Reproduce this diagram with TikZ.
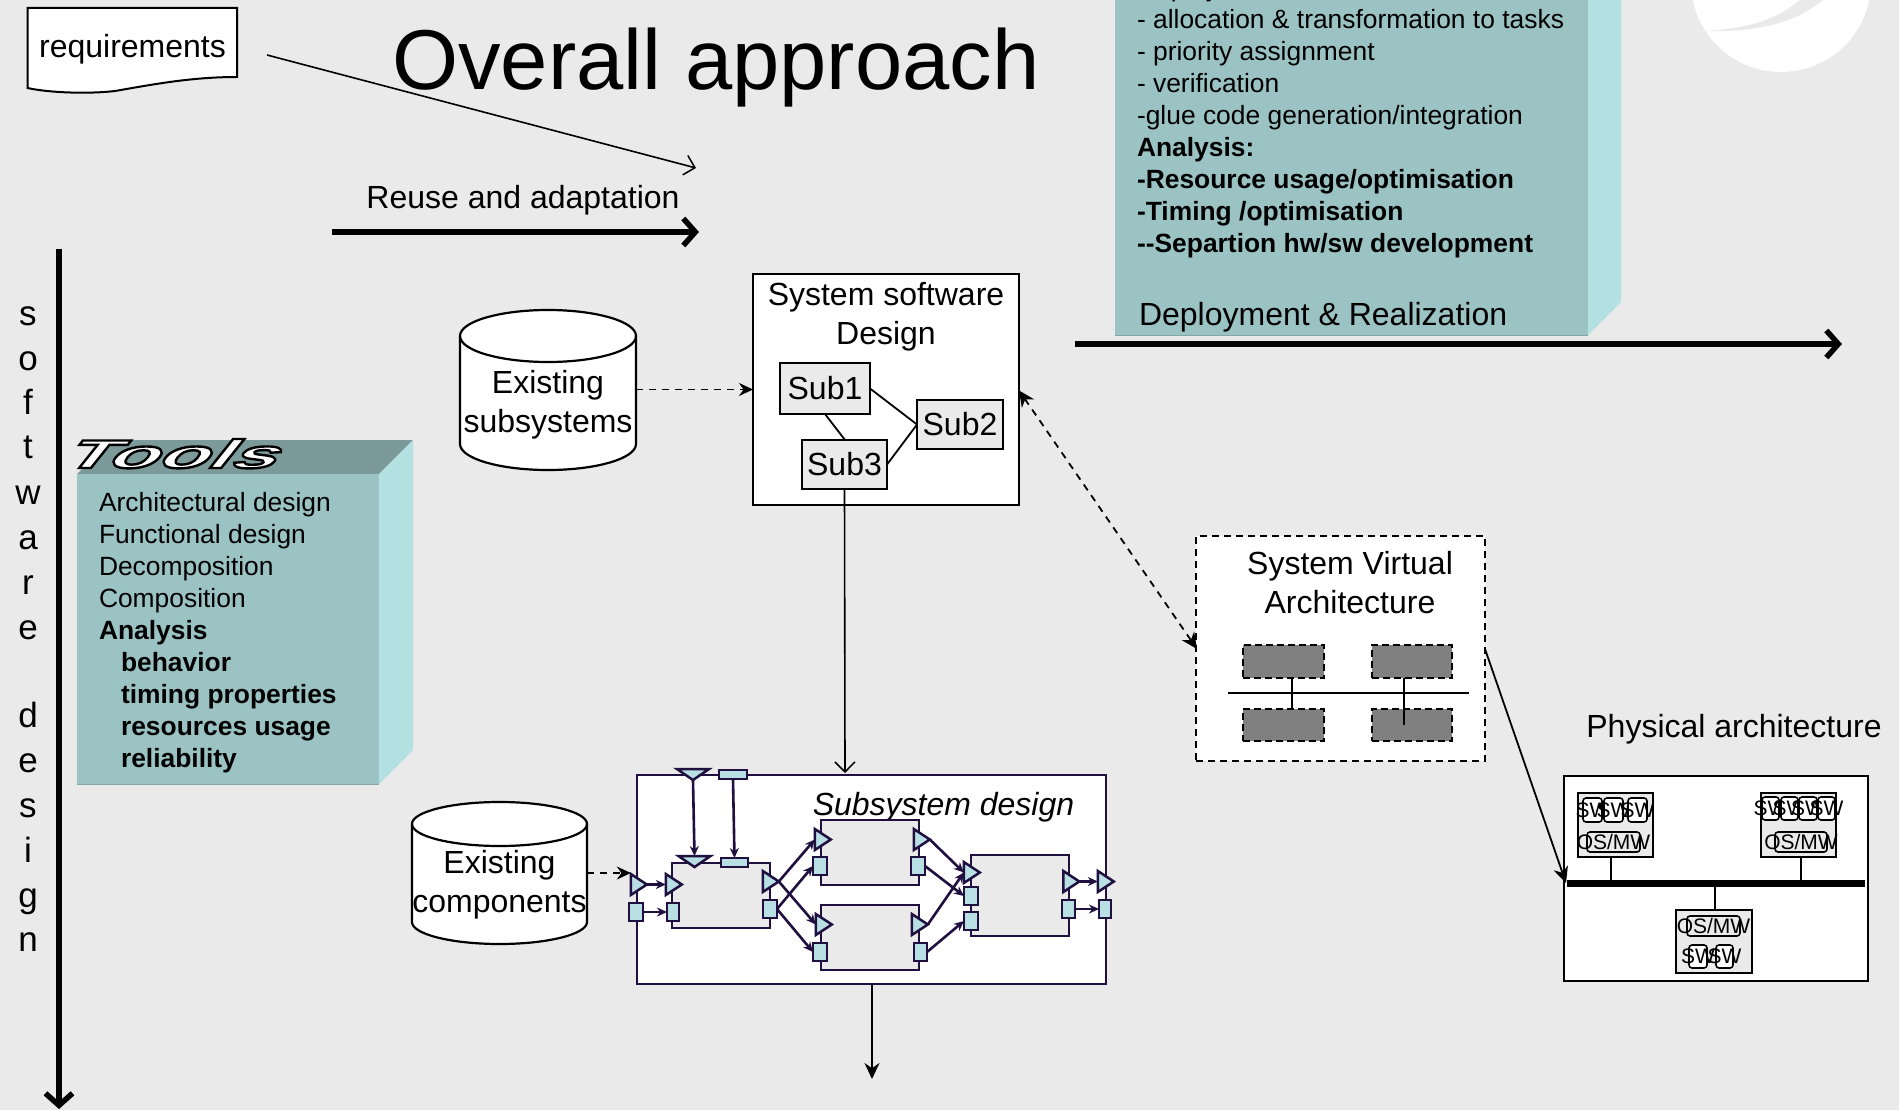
\documentclass[tikz,border=0pt]{standalone}
\usepackage{fontspec}
\setmainfont{Liberation Sans}
\newfontfamily\toolsfont[FakeStretch=2.05,FakeSlant=0.8,FakeBold=6]{Liberation Sans Bold}
\usetikzlibrary{shapes.geometric,arrows.meta,calc}
\definecolor{bgc}{HTML}{EAEAEA}
\definecolor{front}{HTML}{9CC3C4}
\definecolor{sidec}{HTML}{B3E0E0}
\definecolor{topc}{HTML}{7C9A9A}
\definecolor{navy}{HTML}{1F1040}
\definecolor{portc}{HTML}{B8E0E4}
\definecolor{darkbox}{HTML}{808080}
\newcommand{\fs}[1]{\fontsize{#1}{#1}\selectfont}
\tikzset{
  every node/.style={inner sep=0pt,outer sep=0pt},
  lab/.style={font=\fontsize{32}{39}\selectfont,align=center},
  body/.style={font=\fontsize{26.4}{32}\selectfont,align=left,anchor=north west},
  plainbox/.style={draw=black,line width=2.2pt,fill=white},
  subbox/.style={draw=black,line width=2.2pt,fill=bgc},
  dashbox/.style={draw=black,line width=2.2pt,fill=white,dash pattern=on 7pt off 5pt},
  greybox/.style={draw=black,line width=2.4pt,fill=darkbox,dash pattern=on 7pt off 4pt},
  navybox/.style={draw=navy,line width=2.5pt,fill=white},
  innerbox/.style={draw=navy,line width=2.5pt,fill=bgc},
  rport/.style={draw=navy,line width=2.5pt,fill=portc},
  tport/.style={draw=navy,line width=2.5pt,fill=portc,isosceles triangle,isosceles triangle stretches,minimum height=16pt,minimum width=21pt},
  chip/.style={draw=black,line width=1.6pt,rounded corners=3pt,fill=white,font=\fontsize{21}{21}\selectfont},
  oschip/.style={draw=black,line width=1.6pt,rounded corners=3pt,fill=bgc,font=\fontsize{21}{21}\selectfont},
  thin conn/.style={draw=black,line width=1.8pt},
  open tip/.style={-{Straight Barb[length=10pt,width=20pt,line width=1.5pt]},line width=1.6pt},
  heavy/.style={-{Straight Barb[length=12pt,width=27pt,line width=5.5pt]},line width=5.5pt},
  solid tip/.style={-{Stealth[length=16pt,width=15pt]},line width=1.8pt},
  dash conn/.style={line width=1.8pt,dash pattern=on 7pt off 6pt},
  navyarrow/.style={draw=navy,line width=2.6pt,-{Stealth[length=10pt,width=9pt]}},
  cylbody/.style={draw=black,line width=2.2pt,fill=white},
}
% \bx{name}{x1}{y1}{x2}{y2}{style}{text}
\newcommand{\bx}[7]{%
  \pgfmathsetmacro{\bxw}{#4-#2}\pgfmathsetmacro{\bxh}{#5-#3}%
  \node[#6,minimum width=\bxw pt,minimum height=\bxh pt] (#1) at ({(#2+#4)/2},{(#3+#5)/2}) {#7};}
\newcommand{\rp}[5]{\bx{#1}{#2}{#3}{#4}{#5}{rport}{}}
\newcommand{\tp}[3]{\node[tport] (#1) at ({#2-1.5},#3) {};}
\newcommand{\td}[3]{\node[tport,shape border rotate=-90,minimum height=11pt,minimum width=32pt] (#1) at (#2,{#3-1.5}) {};}
% \chp{name}{x1}{y1}{x2}{y2}{text}: the text may overflow its chip
\newcommand{\chp}[6]{\bx{#1}{#2}{#3}{#4}{#5}{chip}{\makebox[0pt]{#6}}}
\newcommand{\osc}[5]{\bx{#1}{#2}{#3}{#4}{#5}{oschip}{\makebox[0pt]{OS/MW}}}
% \cyln{name}{x1}{y1}{x2}{y2}{ry}
\newcommand{\cyln}[6]{%
  \pgfmathsetmacro{\crx}{(#4-#2)/2}%
  \path[cylbody] (#2,#3+#6) -- (#2,#5-#6) arc[start angle=180,end angle=360,x radius=\crx pt,y radius=#6pt] -- (#4,#3+#6) arc[start angle=0,end angle=180,x radius=\crx pt,y radius=#6pt] -- cycle;
  \draw[cylbody,fill=none] (#2,#3+#6) arc[start angle=180,end angle=360,x radius=\crx pt,y radius=#6pt];
  \pgfmathsetmacro{\bxw}{#4-#2}\pgfmathsetmacro{\bxh}{#5-#3}%
  \node[minimum width=\bxw pt,minimum height=\bxh pt] (#1) at ({(#2+#4)/2},{(#3+#5)/2}) {};}
\begin{document}
\begin{tikzpicture}[x=1pt,y=-1pt]
\path[use as bounding box,fill=bgc] (0,-1) rectangle (1899,1109);
% logo
\fill[white] (1781,-19) circle (90);
\fill[bgc] (1703,30) .. controls (1765,32) and (1800,18) .. (1823,-1) -- (1800,-1) .. controls (1775,20) and (1745,28) .. (1703,30) -- cycle;
% title
\node[anchor=base,font=\fs{85}] (title) at (716,88.5) {Overall approach};
% requirements
\path[draw=black,line width=2pt,fill=white] (27.5,7) -- (237,7) -- (237,76) .. controls (190,76) and (150,84) .. (115,90) .. controls (90,93) and (50,92) .. (27.5,87) -- cycle;
\node[font=\fs{32}] (req) at (132.5,48) {requirements};
\coordinate (reqout) at (267,54);
\coordinate (reqin) at (696,167);
\draw[open tip] (reqout) -- (reqin);
% reuse
\node[anchor=base,font=\fs{32}] (reuse) at (523,208) {Reuse and adaptation};
\coordinate (reuseA) at (332,231);
\coordinate (reuseB) at (699,231);
\draw[heavy] (reuseA) -- (reuseB);
% deployment box
\fill[sidec] (1588,334) -- (1621,301) -- (1621,-2) -- (1588,-2) -- cycle;
\fill[front] (1115,-2) rectangle (1588,334);
\draw[line width=1pt,draw=front!85!black] (1115,334) -- (1588,334);
\node[body] (deptext) at (1137,-23.3) {Deployment\\- allocation \& transformation to tasks\\- priority assignment\\- verification\\-glue code generation/integration\\\textbf{Analysis:}\\\textbf{-Resource usage/optimisation}\\\textbf{-Timing /optimisation}\\\textbf{-{}-Separtion hw/sw development}};
\node[anchor=base west,font=\fs{32}] (deplabel) at (1139,324) {Deployment \& Realization};
\coordinate (depA) at (1075,343);
\coordinate (depB) at (1842,343);
\draw[heavy] (depA) -- (depB);
% software design axis
\coordinate (swA) at (59,248);
\coordinate (swB) at (59,1108);
\draw[heavy] (swA) -- (swB);
\foreach \n/\t/\y in {a/s/324,b/o/369,c/f/413,d/t/457,e/w/503,f/a/548,g/r/593,h/e/638,i/d/726,j/e/771,k/s/816,l/i/861,m/g/906,n/n/950}{
  \node[anchor=base,font=\fs{35}] (sw\n) at (28,\y) {\t};
}
% tools box
\fill[topc] (77,473) -- (111,439) -- (413,439) -- (379,473) -- cycle;
\fill[sidec] (379,473) -- (413,439) -- (413,749) -- (379,783) -- cycle;
\fill[front] (77,473) rectangle (379,783);
\draw[line width=1pt,draw=front!85!black] (77,783) -- (379,783);
\node[anchor=base west,font={\toolsfont\fs{40}}] (tools) at (60,467) {\special{pdf:bcolor [1 1 1] [0 0 0]}Tools\special{pdf:ecolor}};
\node[body] (toolstext) at (99,491.5) {Architectural design\\Functional design\\Decomposition\\Composition\\\textbf{Analysis}\\\hspace*{22pt}\textbf{behavior}\\\hspace*{22pt}\textbf{timing properties}\\\hspace*{22pt}\textbf{resources usage}\\\hspace*{22pt}\textbf{reliability}};
% existing subsystems
\cyln{exsub}{460}{309}{636}{469}{26}
\node[lab,anchor=north] (exsubtxt) at (548,369) {Existing\\subsystems};
% system software design
\bx{sys}{753}{273}{1019}{504}{plainbox}{}
\node[lab,anchor=north] (systxt) at (886,281) {System software\\Design};
\bx{subA}{780}{362}{870}{413}{subbox}{\raisebox{-1pt}{\fs{32}Sub1}}
\bx{subB}{917}{399}{1003}{448}{subbox}{\raisebox{-1pt}{\fs{32}Sub2}}
\bx{subC}{802}{439}{887}{488}{subbox}{\raisebox{-1pt}{\fs{32}Sub3}}
\draw[thin conn] (subA.east) -- (subB.west);
\coordinate (subAs) at (825,0);
\coordinate (subCn) at (845,0);
\draw[thin conn] (subAs |- subA.south) -- (subCn |- subC.north);
\draw[thin conn] (subC.east) -- (subB.west);
\draw[dash conn,-{Stealth[length=14pt,width=13pt]}] (exsub.east |- sys.west) -- (sys.west);
% virtual architecture
\bx{virt}{1196}{535}{1485}{760}{dashbox}{}
\node[lab,anchor=north] (virttxt) at (1350,550) {System Virtual\\Architecture};
\bx{va}{1243}{644}{1324}{677}{greybox}{}
\bx{vb}{1372}{644}{1452}{677}{greybox}{}
\bx{vc}{1243}{708}{1324}{740}{greybox}{}
\bx{vd}{1372}{708}{1452}{740}{greybox}{}
\coordinate (busL) at (1228,692);
\coordinate (busR) at (1469,692);
\draw[thin conn] (busL) -- (busR);
\coordinate (vlA) at (1292,0);
\coordinate (vlB) at (1404,724);
\draw[thin conn,line width=2.4pt] (vlA |- va.south) -- (vlA |- vc.north);
\draw[thin conn,line width=2.4pt] (vlB |- vb.south) -- (vlB);
\draw[dash conn,{Stealth[length=16pt,width=15pt]}-{Stealth[length=16pt,width=15pt]}] (sys.east) ++(0,1) -- (1197,648);
% physical architecture
\node[anchor=base,font=\fs{32}] (phystxt) at (1734,736) {Physical architecture};
\bx{phys}{1564}{775}{1868}{980}{plainbox}{}
\bx{bus}{1567}{879}{1865}{886}{draw=none,fill=black}{}
\bx{pa}{1578}{792}{1653}{856}{subbox}{}
\bx{pb}{1761}{792}{1836}{856}{subbox}{}
\bx{pc}{1676}{909}{1752}{972}{subbox}{}
\chp{pas1}{1583}{797}{1602}{821}{SW}
\chp{pas2}{1604}{797}{1623}{821}{SW}
\chp{pas3}{1628}{797}{1647}{821}{SW}
\osc{pao}{1587}{831}{1640}{851}
\chp{pbs1}{1762}{796}{1779}{819}{SW}
\chp{pbs2}{1781}{796}{1798}{819}{SW}
\chp{pbs3}{1799}{796}{1817}{819}{SW}
\chp{pbs4}{1818}{796}{1835}{819}{SW}
\osc{pbo}{1775}{831}{1827}{851}
\osc{pco}{1687}{915}{1740}{935}
\chp{pcs1}{1689}{944}{1707}{967}{SW}
\chp{pcs2}{1716}{944}{1733}{967}{SW}
\coordinate (plA) at (1611,0);
\coordinate (plB) at (1801,0);
\coordinate (plC) at (1715,0);
\draw[thin conn] (plA |- pa.south) -- (plA |- bus.north);
\draw[thin conn] (plB |- pb.south) -- (plB |- bus.north);
\draw[thin conn] (plC |- pc.north) -- (plC |- bus.south);
\coordinate (virtout) at (1485,648);
\coordinate (physin) at (1566,882);
\draw[solid tip] (virtout) -- (physin);
% subsystem design
\bx{subd}{637}{774}{1106}{983}{navybox}{}
\node[anchor=base,font={\itshape\fs{32}}] (subdtxt) at (943.5,814.5) {Subsystem design};
\coordinate (subdin) at (845,772);
\draw[open tip] (subC.south) -- (subdin);
\coordinate (subdout) at (872,1078);
\draw[solid tip] (subdout |- subd.south) -- (subdout);
\bx{bA}{672}{862}{770}{927}{innerbox}{}
\bx{bB}{821}{819}{919}{884}{innerbox}{}
\bx{bC}{821}{904}{919}{969}{innerbox}{}
\bx{bD}{971}{854}{1069}{935}{innerbox}{}
% ports
\tp{tO}{638}{883.5}\rp{rO}{629}{902}{643}{920}
\tp{tAi}{673}{883.5}\rp{rAi}{667}{902}{679}{920}
\td{tAt}{694.5}{861.5}\rp{rAt}{721}{857}{748}{866}
\td{tTop}{693}{774.5}\rp{rTop}{719}{769}{747}{778}
\tp{tAo}{770}{880.5}\rp{rAo}{763}{899}{777}{917}
\tp{tBi}{822}{838.5}\rp{rBi}{813}{856}{827}{874}
\tp{tBo}{921}{838.5}\rp{rBo}{911}{856}{925}{874}
\tp{tCi}{823}{923.5}\rp{rCi}{813}{942}{827}{960}
\tp{tCo}{919}{923.5}\rp{rCo}{914}{942}{927}{960}
\tp{tDi}{971}{871.5}\rp{rDa}{964}{886}{978}{904}\rp{rDb}{964}{911}{978}{929}
\tp{tDo}{1070.5}{880.5}\rp{rDo}{1062}{899}{1075}{917}
\tp{tE}{1105}{880.5}\rp{rE}{1099}{899}{1111}{917}
% port connectors
\draw[navyarrow] (tO.apex) -- (tAi.lower side);
\draw[navyarrow] (rO.east) -- (rAi.west);
\draw[navyarrow] (tTop.apex) -- (tAt.lower side);
\draw[navyarrow] (rTop.south) -- (rAt.north);
\draw[navyarrow] (tAo.apex) -- (tBi.lower side);
\draw[navyarrow] (rAo.east) -- (rBi.west);
\draw[navyarrow] (tAo.apex) -- (tCi.lower side);
\draw[navyarrow] (rAo.east) -- (rCi.west);
\draw[navyarrow] (tBo.apex) -- (tDi.lower side);
\draw[navyarrow] (rBo.east) -- (rDa.west);
\draw[navyarrow] (tCo.apex) -- (tDi.lower side);
\draw[navyarrow] (rCo.east) -- (rDb.west);
\draw[navyarrow] (tDo.apex) -- (tE.lower side);
\draw[navyarrow] (rDo.east) -- (rE.west);
% existing components
\cyln{excomp}{412}{801}{587}{943}{22}
\node[lab,anchor=north] (excomptxt) at (499.5,849) {Existing\\components};
\draw[dash conn,-{Stealth[length=14pt,width=13pt]}] (excomp.east) -- (tO.lower side |- excomp.east);
\end{tikzpicture}
\end{document}
